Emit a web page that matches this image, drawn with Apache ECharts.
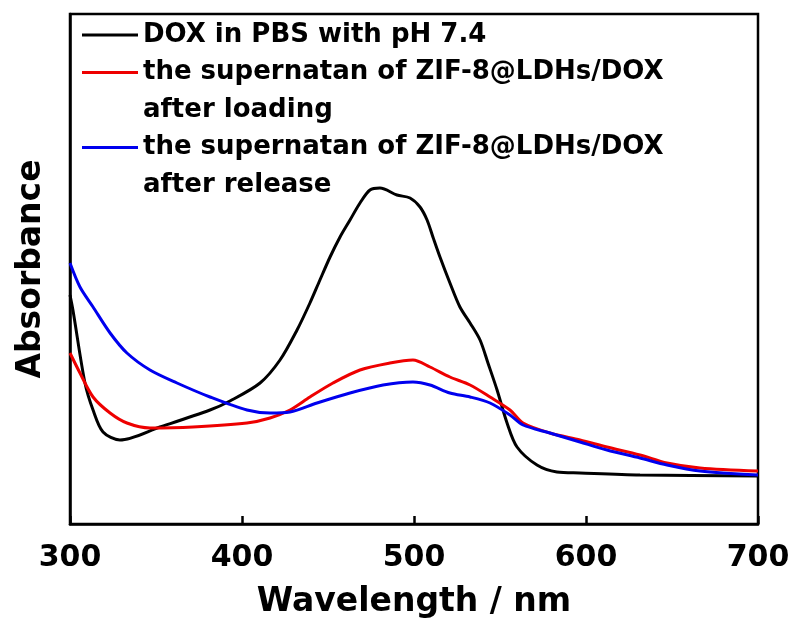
<!DOCTYPE html>
<html>
<head>
<meta charset="utf-8">
<script src="https://cdn.jsdelivr.net/npm/echarts@6/dist/echarts.min.js"></script>
<style>html,body{margin:0;padding:0;background:#fff}#c{width:793px;height:626px}</style>
</head>
<body>
<div id="c"></div>
<script>
// wavelength (nm) and absorbance (a.u.)
const blackX = [300, 301.7, 308.7, 313.4, 319.2, 329, 352.3, 381.4, 393.0, 410.5, 422.1, 432.0, 439.5, 445.3, 451.2, 457.0, 462.8, 468.6, 474.4, 480.2, 490.1, 497.7, 503.5, 507.6, 511.0, 515.1, 520.9, 526.7, 532.6, 538.4, 543.0, 548.3, 554.1, 559.9, 571.5, 583.1, 596.5, 631.4, 700];
const blackY = [1.145, 1.07, 0.705, 0.57, 0.46, 0.42, 0.485, 0.57, 0.615, 0.705, 0.82, 0.97, 1.105, 1.22, 1.335, 1.435, 1.52, 1.605, 1.67, 1.68, 1.645, 1.63, 1.585, 1.52, 1.435, 1.335, 1.205, 1.085, 1.005, 0.92, 0.805, 0.67, 0.505, 0.385, 0.295, 0.26, 0.255, 0.245, 0.24];
const redX = [300, 305.8, 313.4, 323.3, 333.1, 346.5, 371.5, 402.9, 416.3, 427.9, 439.5, 452.9, 468.6, 486, 499.4, 509.3, 520.9, 532.6, 544.2, 555.8, 563.4, 579, 596.5, 612.2, 631.4, 647.1, 666.3, 700];
const redY = [0.855, 0.755, 0.635, 0.555, 0.505, 0.48, 0.485, 0.505, 0.53, 0.57, 0.635, 0.705, 0.77, 0.805, 0.82, 0.785, 0.735, 0.695, 0.635, 0.57, 0.505, 0.455, 0.42, 0.385, 0.345, 0.305, 0.28, 0.265];
const blueX = [300, 305.8, 313.4, 323.3, 333.1, 346.5, 362.2, 381.4, 402.9, 416.3, 427.9, 443.6, 462.8, 482, 499.4, 509.3, 520.9, 532.6, 544.2, 555.8, 563.4, 579, 596.5, 612.2, 631.4, 647.1, 666.3, 700];
const blueY = [1.305, 1.185, 1.085, 0.955, 0.855, 0.77, 0.705, 0.635, 0.57, 0.555, 0.56, 0.605, 0.655, 0.695, 0.71, 0.695, 0.655, 0.635, 0.605, 0.545, 0.495, 0.455, 0.41, 0.37, 0.33, 0.295, 0.265, 0.245];

const seriesNames = ['DOX in PBS with pH 7.4', 'the supernatan of ZIF-8@LDHs/DOX after loading', 'the supernatan of ZIF-8@LDHs/DOX after release'];
const legendLines = [['DOX in PBS with pH 7.4'], ['the supernatan of ZIF-8@LDHs/DOX', 'after loading'], ['the supernatan of ZIF-8@LDHs/DOX', 'after release']];
const colors = ['#000000', '#ee0000', '#0000ee'];
const xTicks = [300, 400, 500, 600, 700];
const xTitle = 'Wavelength / nm';
const yTitle = 'Absorbance';

const FONT = 'DejaVu Sans';
const zip = (xs, ys) => xs.map((x, i) => [x, ys[i]]);

// legend graphic
const graphic = [];
let row = 0;
const rowH = 37.5, y0 = 35;
legendLines.forEach((lines, i) => {
  const y = y0 + row * rowH;
  graphic.push({ type: 'line', shape: { x1: 82, y1: y, x2: 138, y2: y }, style: { stroke: colors[i], lineWidth: 3 } });
  lines.forEach((t, j) => {
    graphic.push({ type: 'text', x: 143, y: y0 + (row + j) * rowH, style: { text: t, font: 'bold 26px "' + FONT + '"', fill: '#000', verticalAlign: 'middle', textAlign: 'left' } });
  });
  row += lines.length;
});

const chart = echarts.init(document.getElementById('c'), null, { renderer: 'canvas' });
chart.setOption({
  animation: false,
  backgroundColor: '#fff',
  grid: { left: 70, right: 35, top: 14, bottom: 102, show: true, borderColor: '#000', borderWidth: 2.5, backgroundColor: 'transparent' },
  xAxis: {
    type: 'value', min: 300, max: 700, interval: 100,
    name: xTitle, nameLocation: 'middle', nameGap: 62,
    nameTextStyle: { fontFamily: FONT, fontWeight: 'bold', fontSize: 33, color: '#000' },
    axisLine: { lineStyle: { color: '#000', width: 2.5 } },
    axisTick: { inside: true, length: 8, lineStyle: { color: '#000', width: 2.5 } },
    axisLabel: { fontFamily: FONT, fontWeight: 'bold', fontSize: 30, color: '#000', margin: 19, formatter: v => xTicks.includes(v) ? String(v) : '' },
    splitLine: { show: false }
  },
  yAxis: {
    type: 'value', min: 0, max: 2.55,
    name: yTitle, nameLocation: 'middle', nameGap: 22,
    nameTextStyle: { fontFamily: FONT, fontWeight: 'bold', fontSize: 33, color: '#000' },
    axisLine: { show: true, lineStyle: { color: '#000', width: 2.5 } },
    axisTick: { show: false }, axisLabel: { show: false }, splitLine: { show: false }
  },
  graphic: graphic,
  series: [
    { name: seriesNames[0], type: 'line', data: zip(blackX, blackY), smooth: 0.3, showSymbol: false, lineStyle: { color: colors[0], width: 3 } },
    { name: seriesNames[1], type: 'line', data: zip(redX, redY), smooth: 0.3, showSymbol: false, lineStyle: { color: colors[1], width: 3 } },
    { name: seriesNames[2], type: 'line', data: zip(blueX, blueY), smooth: 0.3, showSymbol: false, lineStyle: { color: colors[2], width: 3 } }
  ]
});
</script>
</body>
</html>
